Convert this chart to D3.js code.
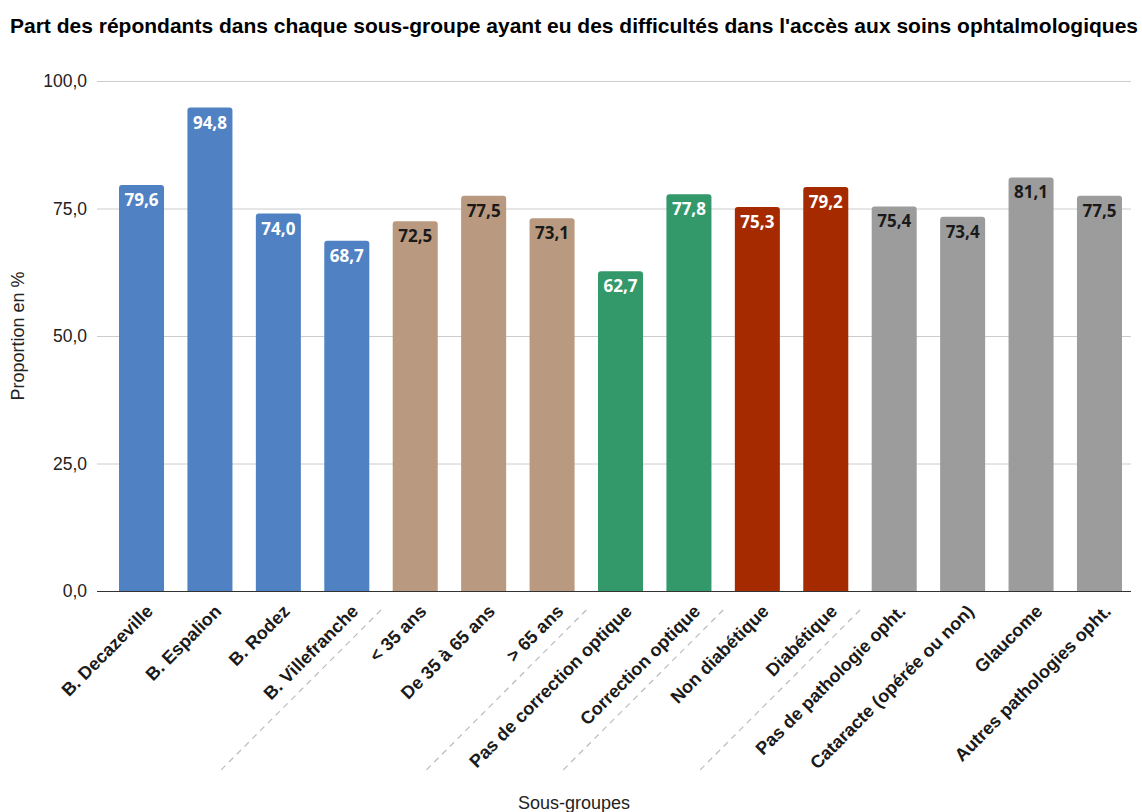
<!DOCTYPE html>
<html lang="fr">
<head>
<meta charset="utf-8">
<script src="https://cdn.jsdelivr.net/npm/d3@7"></script>
<style>
  html, body { margin: 0; padding: 0; background: #fff; }
  svg { display: block; }
</style>
</head>
<body>
<svg id="chart" width="1142" height="812"></svg>
<script>
// Sous-groupes et proportions (%) de répondants ayant eu des difficultés
const categories = [
  "B. Decazeville", "B. Espalion", "B. Rodez", "B. Villefranche",
  "< 35 ans", "De 35 à 65 ans", "> 65 ans",
  "Pas de correction optique", "Correction optique",
  "Non diabétique", "Diabétique",
  "Pas de pathologie opht.", "Cataracte (opérée ou non)", "Glaucome", "Autres pathologies opht."
];
const values = [79.6, 94.8, 74.0, 68.7, 72.5, 77.5, 73.1, 62.7, 77.8, 75.3, 79.2, 75.4, 73.4, 81.1, 77.5];
const groups = ["secteur", "secteur", "secteur", "secteur", "age", "age", "age",
                "correction", "correction", "diabete", "diabete",
                "pathologie", "pathologie", "pathologie", "pathologie"];
const groupNames = ["secteur", "age", "correction", "diabete", "pathologie"];
const groupColors = ["#4f81c3", "#b9997f", "#33996a", "#a52a00", "#9c9c9c"];
const labelColors = ["#ffffff", "#1a1a1a", "#ffffff", "#ffffff", "#1a1a1a"];
const yTicks = [0, 25, 50, 75, 100];

const svg = d3.select("#chart");
const plot = { left: 97, right: 1131, top: 81, bottom: 591 };

// Bandes des barres (les barres extrêmes sont en retrait du cadre)
const x = d3.scaleBand()
  .domain(categories)
  .range([119, 1122])
  .paddingInner(0.342)
  .paddingOuter(0);

const y = d3.scaleLinear().domain([0, 100]).range([plot.bottom, plot.top]);

const color = d3.scaleOrdinal().domain(groupNames).range(groupColors);
const labelColor = d3.scaleOrdinal().domain(groupNames).range(labelColors);
const fmt = v => d3.format(".1f")(v).replace(".", ",");

// Titre
svg.append("text")
  .attr("x", 10).attr("y", 33)
  .attr("font-family", "'Liberation Sans', Arial, sans-serif")
  .attr("font-weight", "bold")
  .attr("font-size", 20.5)
  .attr("fill", "#000")
  .attr("textLength", 1128)
  .attr("lengthAdjust", "spacingAndGlyphs")
  .text("Part des répondants dans chaque sous-groupe ayant eu des difficultés dans l'accès aux soins ophtalmologiques");

// Grille et axe vertical
const yAxis = d3.axisLeft(y)
  .tickValues(yTicks)
  .tickSize(-(plot.right - plot.left))
  .tickPadding(10)
  .tickFormat(fmt);

const gy = svg.append("g")
  .attr("transform", `translate(${plot.left},0)`)
  .call(yAxis);
gy.select(".domain").remove();
gy.selectAll(".tick line").attr("stroke", "#cccccc").attr("stroke-width", 1);
gy.selectAll(".tick text")
  .attr("font-family", "'Liberation Sans', Arial, sans-serif")
  .attr("font-size", 17.5)
  .attr("fill", "#222");

// Barres aux coins supérieurs arrondis
const r = 3;
function barPath(d, i) {
  const x0 = x(categories[i]), w = x.bandwidth();
  const y0 = y(d), y1 = y(0);
  return `M${x0},${y1}V${y0 + r}Q${x0},${y0} ${x0 + r},${y0}H${x0 + w - r}Q${x0 + w},${y0} ${x0 + w},${y0 + r}V${y1}Z`;
}

svg.append("g").selectAll("path")
  .data(values)
  .join("path")
  .attr("d", barPath)
  .attr("fill", (d, i) => color(groups[i]));

// Étiquettes de valeurs
svg.append("g").selectAll("text")
  .data(values)
  .join("text")
  .attr("x", (d, i) => x(categories[i]) + x.bandwidth() / 2)
  .attr("y", d => y(d) + 21)
  .attr("text-anchor", "middle")
  .attr("font-family", "'Open Sans', Roboto, sans-serif")
  .attr("font-weight", "bold")
  .attr("font-size", 17)
  .attr("fill", (d, i) => labelColor(groups[i]))
  .text(fmt);

// Axe horizontal
const xAxis = d3.axisBottom(x).tickSize(0).tickPadding(0);
const gx = svg.append("g")
  .attr("transform", `translate(0,${plot.bottom})`)
  .call(xAxis);
gx.select(".domain").attr("stroke", "#333").attr("d", `M${plot.left},0.5H${plot.right}`);
gx.selectAll(".tick text")
  .attr("font-family", "'Liberation Sans', Arial, sans-serif")
  .attr("font-weight", "bold")
  .attr("font-size", 18)
  .attr("fill", "#1a1a1a")
  .attr("text-anchor", "end")
  .attr("dy", "0.35em")
  .attr("transform", "translate(8,17) rotate(-45)");

// Séparateurs entre groupes
const sepAfter = [3, 6, 8, 10];
const sepX = i => (x(categories[i]) + x(categories[i + 1]) + x.bandwidth()) / 2;
svg.append("g").selectAll("line")
  .data(sepAfter)
  .join("line")
  .attr("x1", i => sepX(i))
  .attr("y1", 610)
  .attr("x2", i => sepX(i) - 163)
  .attr("y2", 773)
  .attr("stroke", "#bbbbbb")
  .attr("stroke-width", 1.2)
  .attr("stroke-dasharray", "6,5");

// Titres des axes
svg.append("text")
  .attr("transform", `translate(24,336) rotate(-90)`)
  .attr("text-anchor", "middle")
  .attr("font-family", "'Liberation Sans', Arial, sans-serif")
  .attr("font-size", 18)
  .attr("fill", "#222")
  .text("Proportion en %");

svg.append("text")
  .attr("x", 574).attr("y", 809)
  .attr("text-anchor", "middle")
  .attr("font-family", "'Liberation Sans', Arial, sans-serif")
  .attr("font-size", 18)
  .attr("fill", "#222")
  .text("Sous-groupes");
</script>
</body>
</html>
